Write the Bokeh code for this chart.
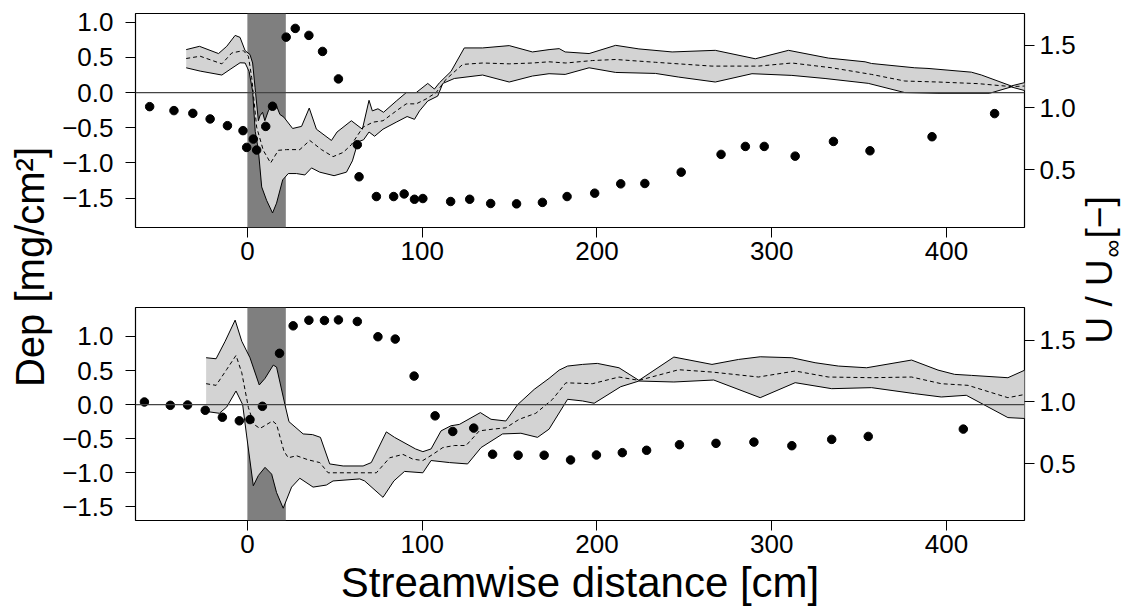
import math
from bokeh.plotting import figure
from bokeh.models import (Range1d, LinearAxis, FixedTicker, CustomJSTickFormatter,
                          Span, BoxAnnotation, Label)
from bokeh.layouts import row, column
from bokeh.embed import file_html
from bokeh.resources import INLINE

# ---------------- data ----------------
x_ticks = [0, 100, 200, 300, 400]
dep_ticks = [-1.5, -1.0, -0.5, 0.0, 0.5, 1.0]
u_ticks = [0.5, 1.0, 1.5]
shade_x = [0, 22]  # dark shaded strip (cm)

# top panel: deposition band (upper / lower / mean)
top_up_x = [-35, -27.4, -16.5, -11.8, -7.0, -4.2, -1.3, 1.5, 3.0, 4.4, 6.3, 7.2, 8.7, 10.0, 12.0, 14.4,
            16.7, 18.6, 20.9, 25.9, 31.0, 35.4, 39.5, 48.1, 51.3, 59.5, 65.8, 69.6, 71.5, 74.7, 77.9,
            85.2, 90.9, 96.6, 103.2, 107.0, 109.9, 116.5, 124.1, 134.6, 149.8, 163.1, 172.6, 178.4,
            181.8, 195.5, 210.7, 224.0, 243.0, 267.7, 290.6, 309.6, 332.4, 353.4, 357.1, 381.8, 389.4,
            414.2, 419.9, 437.0, 446.0]
top_up_y = [0.61, 0.657, 0.554, 0.657, 0.812, 0.784, 0.596, 0.54, 0.42, 0.07, -0.40, -0.33, -0.28,
            -0.40, -0.26, -0.16, -0.19, -0.31, -0.35, -0.51, -0.48, -0.22, -0.52, -0.68, -0.56, -0.40,
            -0.52, -0.11, -0.26, -0.23, -0.28, -0.12, 0.0, 0.0, 0.13, 0.05, 0.14, 0.30, 0.634, 0.634,
            0.667, 0.577, 0.61, 0.624, 0.577, 0.554, 0.671, 0.62, 0.577, 0.60, 0.48, 0.60, 0.49, 0.437,
            0.413, 0.352, 0.343, 0.29, 0.25, 0.094, 0.15]
top_lo_x = [-35, -27, -14.6, -9.9, -4.2, -1.3, 1.0, 3.0, 4.5, 6.3, 8.2, 11.0, 14.4, 16.7, 20.2, 23.4,
            28.1, 32.9, 36.7, 41.4, 49.6, 56.7, 60.1, 63.3, 66.5, 69.6, 72.8, 77.6, 85.2, 91.4, 95.6,
            98.5, 103.2, 108.9, 111.8, 118.4, 134.6, 149.8, 163.1, 172.6, 181.8, 195.5, 210.7, 233.5,
            246.8, 267.7, 288.7, 311.5, 330.5, 355.2, 376.1, 395.1, 424.6, 437.0, 446.0]
top_lo_y = [0.352, 0.305, 0.249, 0.329, 0.423, 0.42, 0.30, 0.02, -0.55, -0.82, -1.34, -1.53, -1.71,
            -1.57, -1.24, -1.15, -1.15, -1.17, -1.07, -1.13, -1.18, -1.13, -0.97, -0.70, -0.67, -0.56,
            -0.62, -0.52, -0.42, -0.34, -0.38, -0.26, -0.12, -0.05, 0.13, 0.20, 0.249, 0.15, 0.235,
            0.268, 0.258, 0.352, 0.286, 0.272, 0.22, 0.15, 0.268, 0.244, 0.20, 0.131, 0.0, -0.01,
            -0.01, 0.08, 0.02]
top_mid_x = [-35, -27, -14.6, -8.9, -2.3, 0.6, 2.5, 5.3, 9.1, 13.3, 17.7, 22.4, 30.0, 35.7, 42.4, 49.0,
             54.8, 59.5, 66.2, 71.9, 77.6, 85.2, 90.9, 96.6, 102.3, 108.0, 113.7, 123.2, 134.6, 149.8,
             163.1, 172.6, 182.2, 197.4, 210.7, 233.5, 265.8, 292.4, 311.5, 334.3, 357.1, 376.1,
             395.1, 418.0, 437.0, 446.0]
top_mid_y = [0.484, 0.516, 0.408, 0.563, 0.596, 0.516, 0.21, -0.49, -0.82, -1.0, -0.82, -0.81, -0.81,
             -0.68, -0.81, -0.91, -0.85, -0.74, -0.49, -0.42, -0.40, -0.26, -0.16, -0.16, -0.09, 0.0,
             0.19, 0.40, 0.42, 0.408, 0.42, 0.437, 0.42, 0.455, 0.47, 0.43, 0.376, 0.376, 0.42, 0.352,
             0.258, 0.164, 0.15, 0.127, 0.085, 0.094]
# top panel: velocity ratio points
top_pt_x = [-55.9, -42.0, -31.2, -21.3, -11.4, -2.5, -0.4, 3.4, 5.3, 10.5, 14.4, 22.2, 27.4, 35.2, 43.0,
            52.1, 62.9, 63.9, 73.8, 83.7, 89.7, 95.6, 100.4, 116.3, 127.2, 139.2, 154.0, 168.8, 182.9,
            198.7, 213.6, 227.4, 248.2, 271.0, 284.9, 295.7, 313.4, 335.3, 356.2, 391.7, 427.5]
top_pt_u = [1.008, 0.976, 0.954, 0.909, 0.855, 0.815, 0.680, 0.747, 0.659, 0.849, 1.011, 1.567, 1.637,
            1.581, 1.452, 1.231, 0.702, 0.444, 0.285, 0.285, 0.306, 0.263, 0.269, 0.245, 0.263, 0.229,
            0.226, 0.238, 0.285, 0.312, 0.387, 0.390, 0.481, 0.624, 0.688, 0.688, 0.610, 0.728, 0.653,
            0.766, 0.952]

# bottom panel
bot_up_x = [-23.6, -17.9, -12.7, -7.0, -3.2, 1.5, 6.8, 10.1, 14.8, 16.7, 21.5, 23.8, 31.9, 37.3, 41.8,
            47.1, 54.8, 66.2, 70.9, 79.5, 84.2, 96.2, 100.4, 105.1, 110.8, 116.5, 121.3, 133.3, 139.4,
            147.9, 154.6, 164.1, 172.6, 178.4, 183.2, 191.7, 200.2, 212.6, 224.0, 244.0, 265.8, 281.0,
            293.4, 311.5, 324.8, 338.1, 354.3, 380.0, 395.1, 404.6, 414.2, 435.1, 446.0]
bot_up_y = [0.688, 0.673, 0.93, 1.24, 0.93, 0.688, 0.288, 0.385, 0.58, 0.551, 0.0, -0.25, -0.43, -0.44,
            -0.48, -0.87, -0.90, -0.90, -0.85, -0.40, -0.48, -0.65, -0.69, -0.65, -0.385, -0.31, -0.29,
            -0.117, -0.215, -0.24, 0.0, 0.224, 0.385, 0.507, 0.566, 0.59, 0.605, 0.541, 0.356, 0.698,
            0.59, 0.663, 0.702, 0.688, 0.615, 0.566, 0.541, 0.654, 0.507, 0.444, 0.429, 0.395, 0.52]
bot_lo_x = [-23.6, -16.0, -11.8, -6.5, -2.7, -0.4, 3.4, 6.3, 10.1, 13.9, 16.7, 20.5, 25.3, 30.0, 37.6,
            45.2, 49.0, 64.3, 67.1, 77.6, 83.8, 89.9, 100.4, 105.1, 115.6, 126.0, 133.7, 146.0, 156.5,
            166.0, 172.6, 183.2, 191.7, 198.4, 213.6, 224.0, 244.0, 266.8, 293.4, 313.4, 334.3, 357.1,
            381.8, 397.0, 411.3, 435.1, 446.0]
bot_lo_y = [-0.10, -0.127, -0.034, 0.2, 0.0, -0.46, -1.19, -1.04, -0.92, -1.02, -1.29, -1.52, -1.21,
            -1.08, -1.21, -1.18, -1.12, -1.09, -1.12, -1.36, -1.12, -0.98, -1.0, -0.82, -0.85, -0.87,
            -0.63, -0.43, -0.42, -0.48, -0.36, 0.078, 0.054, 0.02, 0.263, 0.346, 0.332, 0.361, 0.102,
            0.322, 0.234, 0.249, 0.161, 0.112, 0.137, -0.19, -0.205]
bot_mid_x = [-23.6, -17.9, -11.8, -6.5, -3.2, 0.6, 3.8, 7.2, 14.4, 16.7, 20.9, 23.4, 28.1, 34.8, 41.4,
             46.2, 66.2, 73.8, 81.4, 89.0, 94.7, 100.4, 106.1, 111.8, 118.4, 125.1, 132.7, 140.3, 147.9,
             155.5, 165.0, 174.6, 182.2, 197.4, 212.6, 224.0, 246.8, 265.8, 292.4, 313.4, 332.4, 357.1,
             380.0, 397.0, 412.3, 435.1, 446.0]
bot_mid_y = [0.307, 0.283, 0.517, 0.722, 0.468, -0.044, -0.29, -0.35, -0.24, -0.29, -0.68, -0.78, -0.75,
             -0.81, -0.85, -1.0, -1.0, -1.0, -0.78, -0.73, -0.80, -0.82, -0.73, -0.63, -0.60, -0.60,
             -0.385, -0.36, -0.34, -0.215, -0.127, 0.078, 0.32, 0.307, 0.405, 0.356, 0.512, 0.478, 0.405,
             0.493, 0.405, 0.395, 0.405, 0.307, 0.283, 0.102, 0.155]
bot_pt_x = [-58.9, -44.1, -34.2, -24.1, -14.3, -4.6, 1.5, 8.6, 18.4, 26.2, 35.2, 44.1, 52.1, 62.9, 74.7,
            84.6, 95.4, 107.4, 117.5, 129.5, 140.3, 154.9, 169.8, 184.9, 199.7, 214.5, 228.4, 247.2,
            268.1, 289.8, 311.5, 334.3, 355.2, 409.6]
bot_pt_u = [1.0, 0.973, 0.976, 0.933, 0.877, 0.848, 0.858, 0.965, 1.393, 1.615, 1.660, 1.658, 1.663,
            1.650, 1.527, 1.508, 1.209, 0.888, 0.762, 0.789, 0.578, 0.570, 0.570, 0.532, 0.572, 0.591,
            0.610, 0.655, 0.666, 0.676, 0.647, 0.698, 0.722, 0.781]

# ---------------- layout / style ----------------
FONT = "Liberation Sans"
W, H = 1128, 608
LEFT_W, RIGHT_W = 56, 50
PANEL_W = W - LEFT_W - RIGHT_W
BORDER_L = 79
FRAME_W = 892
BORDER_R = PANEL_W - BORDER_L - FRAME_W
TOP_H = 290
BOT_H = H - TOP_H
X_RANGE = (-64.0, 444.6)
FMT1 = "return tick.toFixed(1).replace('-', '\\u2212');"
FMT0 = "return tick.toFixed(0);"


def style_axis(ax, ticks, code, standoff):
    ax.ticker = FixedTicker(ticks=ticks)
    ax.formatter = CustomJSTickFormatter(code=code)
    ax.axis_line_color = None
    ax.major_tick_in = 0
    ax.major_tick_out = 10
    ax.major_tick_line_color = "black"
    ax.major_tick_line_width = 1
    ax.minor_tick_line_color = None
    ax.major_label_text_font = FONT
    ax.major_label_text_font_size = "26px"
    ax.major_label_text_color = "black"
    ax.major_label_standoff = standoff


def make_panel(height, b_top, b_bottom, dep_range, u_range,
               up_x, up_y, lo_x, lo_y, mid_x, mid_y, pt_x, pt_u):
    p = figure(width=PANEL_W, height=height, x_range=Range1d(*X_RANGE),
               y_range=Range1d(*dep_range), output_backend="svg", toolbar_location=None,
               title=None, min_border_left=BORDER_L, min_border_right=BORDER_R,
               min_border_top=b_top, min_border_bottom=b_bottom)
    p.extra_y_ranges = {"u": Range1d(*u_range)}
    p.add_layout(LinearAxis(y_range_name="u"), "right")
    p.xgrid.visible = False
    p.ygrid.visible = False
    p.outline_line_color = "black"
    p.outline_line_width = 1.2
    p.background_fill_color = "white"
    p.border_fill_color = "white"

    style_axis(p.xaxis[0], x_ticks, FMT0, 4)
    style_axis(p.yaxis[0], dep_ticks, FMT1, 12)
    style_axis(p.yaxis[1], u_ticks, FMT1, 5)

    p.add_layout(BoxAnnotation(left=shade_x[0], right=shade_x[1], fill_color="#7f7f7f",
                               fill_alpha=1.0, line_color=None, level="underlay"))
    p.patch(up_x + lo_x[::-1], up_y + lo_y[::-1], fill_color="#d3d3d3", line_color=None)
    p.line(up_x, up_y, line_color="black", line_width=1)
    p.line(lo_x, lo_y, line_color="black", line_width=1)
    p.line(mid_x, mid_y, line_color="black", line_width=1, line_dash="4 3")
    p.add_layout(Span(location=0, dimension="width", line_color="#444444", line_width=1.3))
    p.scatter(pt_x, pt_u, y_range_name="u", size=8.5, color="black")
    return p


top = make_panel(TOP_H, 13, TOP_H - 13 - 214, (-1.916, 1.123), (0.036, 1.757),
                 top_up_x, top_up_y, top_lo_x, top_lo_y, top_mid_x, top_mid_y, top_pt_x, top_pt_u)
bot = make_panel(BOT_H, 17, BOT_H - 17 - 213, (-1.70, 1.425), (0.043, 1.763),
                 bot_up_x, bot_up_y, bot_lo_x, bot_lo_y, bot_mid_x, bot_mid_y, bot_pt_x, bot_pt_u)
bx = bot.xaxis[0]
bx.axis_label = "Streamwise distance [cm]"
bx.axis_label_text_font = FONT
bx.axis_label_text_font_size = "42px"
bx.axis_label_text_font_style = "normal"
bx.axis_label_text_color = "black"
bx.axis_label_standoff = 3


def blank_fig(width, height):
    s = figure(width=width, height=height, x_range=Range1d(0, 1), y_range=Range1d(0, 1),
               x_axis_type=None, y_axis_type=None, min_border=0, toolbar_location=None,
               output_backend="svg", title=None)
    s.outline_line_color = None
    s.background_fill_color = "white"
    s.border_fill_color = "white"
    return s


left = blank_fig(LEFT_W, H)
left.add_layout(Label(x=29, y=H - 266.5, x_units="screen", y_units="screen",
                      text="Dep [mg/cm²]", angle=math.pi / 2, text_align="center",
                      text_baseline="middle", text_font=FONT, text_font_size="40px",
                      text_color="black"))

right = blank_fig(RIGHT_W, H)
RX = W - RIGHT_W  # page x of the right strip
right.add_layout(Label(x=1099 - RX, y=H - 343, x_units="screen", y_units="screen",
                       text="U / U", angle=math.pi / 2, text_align="left",
                       text_baseline="middle", text_font=FONT, text_font_size="37px",
                       text_color="black"))
right.add_layout(Label(x=1111 - RX, y=H - 257, x_units="screen", y_units="screen",
                       text="∞", angle=math.pi / 2, text_align="left",
                       text_baseline="middle", text_font=FONT, text_font_size="25px",
                       text_color="black"))
right.add_layout(Label(x=1099 - RX, y=H - 238, x_units="screen", y_units="screen",
                       text="[−]", angle=math.pi / 2, text_align="left",
                       text_baseline="middle", text_font=FONT, text_font_size="37px",
                       text_color="black"))

layout = row(left, column(top, bot), right)
open("out.html", "w").write(file_html(layout, INLINE))
